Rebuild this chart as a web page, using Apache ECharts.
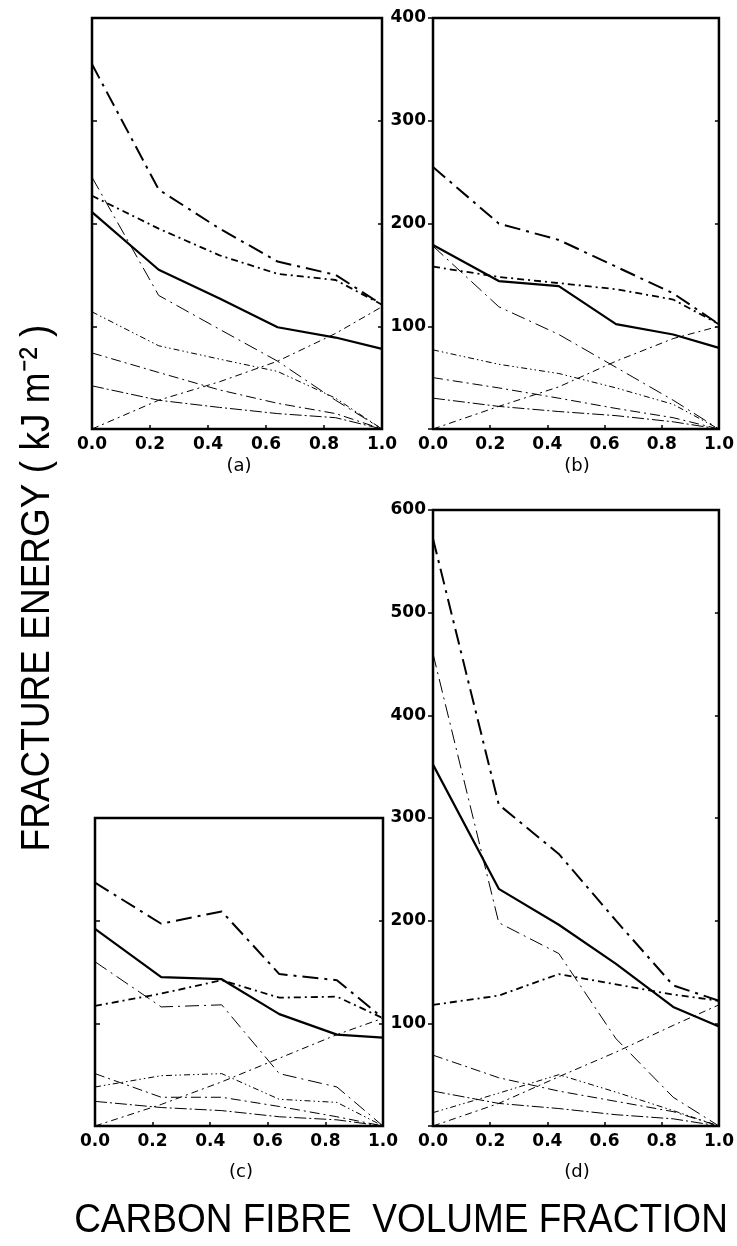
<!DOCTYPE html>
<html>
<head>
<meta charset="utf-8">
<script src="https://cdn.jsdelivr.net/npm/echarts@6/dist/echarts.min.js"></script>
<style>
html,body{margin:0;padding:0;background:#fff;}
#chart{width:737px;height:1246px;}
</style>
</head>
<body>
<div id="chart"></div>
<script>
// ---- data ----
const xVals = [0, 0.23, 0.44, 0.64, 0.84, 1.0];

const a_solid   = [211, 155, 127, 99, 89, 78];
const a_top     = [355, 233, 195, 163, 150, 121];
const a_short   = [227, 195, 169, 151, 145, 121];
const a_steep   = [245, 130, 97, 66, 28, 0];
const a_dd      = [114, 81, 68, 56, 30, 0];
const a_dashdot = [74, 55, 38, 25, 15, 0];
const a_thin    = [42, 28, 21, 15, 11, 0];
const a_rise    = [0, 28, 46, 66, 93, 119];

const b_solid   = [179, 144, 139, 102, 92, 79];
const b_top     = [255, 200, 184, 158, 132, 102];
const b_short   = [158, 148, 142, 136, 126, 102];
const b_steep   = [178, 119, 92, 60, 28, 0];
const b_dd      = [77, 63, 54, 40, 24, 0];
const b_dashdot = [50, 40, 30, 20, 11, 0];
const b_thin    = [30, 22, 17, 13, 7, 0];
const b_rise    = [0, 22, 41, 66, 88, 100];

const c_solid   = [192, 145, 143, 109, 89, 86];
const c_top     = [237, 197, 209, 148, 142, 105];
const c_short   = [117, 129, 142, 125, 126, 105];
const c_steep   = [160, 116, 118, 51, 38, 0];
const c_dd      = [38, 49, 51, 26, 23, 0];
const c_dashdot = [51, 28, 28, 19, 9, 0];
const c_thin    = [24, 18, 15, 9, 6, 0];
const c_rise    = [0, 21, 43, 66, 89, 105];

const d_solid   = [352, 231, 196, 158, 116, 97];
const d_top     = [572, 313, 265, 200, 137, 122];
const d_short   = [118, 127, 148, 138, 128, 122];
const d_steep   = [460, 198, 168, 85, 28, 0];
const d_dd      = [13, 32, 50, 33, 15, 0];
const d_dashdot = [69, 47, 34, 24, 14, 0];
const d_thin    = [34, 22, 17, 11, 7, 0];
const d_rise    = [0, 22, 48, 72, 98, 118];

const panelLabels = ['(a)', '(b)', '(c)', '(d)'];
const yMax = [400, 400, 300, 600];
const yTitle = 'FRACTURE ENERGY ( kJ m\u207B\u00B2 )';
const xTitle = 'CARBON FIBRE  VOLUME FRACTION';

// ---- styles ----
const styles = {
  solid:   {width: 2.2, type: 'solid'},
  top:     {width: 2.0, type: [16, 6, 3, 6]},
  short:   {width: 1.8, type: [7, 4, 2, 4]},
  steep:   {width: 1.0, type: [14, 5, 2, 5]},
  dd:      {width: 1.0, type: [6, 3, 1.5, 3, 1.5, 3]},
  dashdot: {width: 1.0, type: [10, 4, 2, 4]},
  thin:    {width: 1.0, type: [12, 3, 2, 3]},
  rise:    {width: 1.0, type: [7, 4, 2, 4]}
};

const panels = [
  {solid: a_solid, top: a_top, short: a_short, steep: a_steep, dd: a_dd, dashdot: a_dashdot, thin: a_thin, rise: a_rise},
  {solid: b_solid, top: b_top, short: b_short, steep: b_steep, dd: b_dd, dashdot: b_dashdot, thin: b_thin, rise: b_rise},
  {solid: c_solid, top: c_top, short: c_short, steep: c_steep, dd: c_dd, dashdot: c_dashdot, thin: c_thin, rise: c_rise},
  {solid: d_solid, top: d_top, short: d_short, steep: d_steep, dd: d_dd, dashdot: d_dashdot, thin: d_thin, rise: d_rise}
];

// ---- layout ----
const grids = [
  {left: 92,  top: 18,  width: 290, height: 411},
  {left: 433, top: 18,  width: 286, height: 411},
  {left: 95,  top: 818, width: 288, height: 308},
  {left: 433, top: 510, width: 286, height: 616}
];
const showYLabels = [false, true, false, true];
const labelPos = [[239, 466], [577, 466], [241, 1172], [577, 1172]];

const FONT = '"DejaVu Sans", sans-serif';
const TFONT = '"Liberation Sans", Arial, sans-serif';

const tickStyle = {color: '#000', width: 1.5};

const option = {
  animation: false,
  backgroundColor: '#fff',
  grid: grids.map(g => Object.assign({show: true, borderColor: '#000', borderWidth: 2.5, containLabel: false}, g)),
  xAxis: grids.map((g, i) => ({
    type: 'value', gridIndex: i, min: 0, max: 1, interval: 0.2,
    axisLine: {show: false},
    axisTick: {show: true, inside: true, length: 4, lineStyle: tickStyle},
    splitLine: {show: false},
    axisLabel: {color: '#000', fontFamily: FONT, fontSize: 17, fontWeight: 'bold', margin: 7,
      formatter: v => v.toFixed(1)}
  })),
  yAxis: grids.map((g, i) => ({
    type: 'value', gridIndex: i, min: 0, max: yMax[i], interval: 100, position: 'left',
    axisLine: {show: false},
    axisTick: {show: true, inside: !showYLabels[i], length: 5, lineStyle: tickStyle},
    splitLine: {show: false},
    axisLabel: {show: showYLabels[i], color: '#000', fontFamily: FONT, fontSize: 17, fontWeight: 'bold', margin: 7,
      formatter: v => v === 0 ? '' : String(v)}
  })).concat(grids.map((g, i) => ({
    type: 'value', gridIndex: i, min: 0, max: yMax[i], interval: 100, position: 'right',
    axisLine: {show: false},
    axisTick: {show: true, inside: true, length: 4, lineStyle: tickStyle},
    splitLine: {show: false},
    axisLabel: {show: false}
  }))),
  series: [],
  graphic: []
};

panels.forEach((p, i) => {
  Object.keys(styles).forEach(k => {
    option.series.push({
      type: 'line', xAxisIndex: i, yAxisIndex: i, symbol: 'none', silent: true,
      data: xVals.map((x, j) => [x, p[k][j]]),
      lineStyle: {color: '#000', width: styles[k].width, type: styles[k].type},
      z: k === 'solid' ? 3 : 2
    });
  });
  option.graphic.push({
    type: 'text', x: labelPos[i][0], y: labelPos[i][1],
    style: {text: panelLabels[i], font: '18px ' + FONT, fill: '#000', textAlign: 'center', textVerticalAlign: 'middle'}
  });
});

option.graphic.push({
  type: 'text', x: 38, y: 588, rotation: Math.PI / 2, scaleY: 1.12,
  style: {text: yTitle, font: '37px ' + TFONT, fill: '#000', textAlign: 'center', textVerticalAlign: 'middle'}
});
option.graphic.push({
  type: 'text', x: 401, y: 1221, scaleY: 1.12,
  style: {text: xTitle, font: '37px ' + TFONT, fill: '#000', textAlign: 'center', textVerticalAlign: 'middle'}
});

const chart = echarts.init(document.getElementById('chart'), null, {renderer: 'canvas'});
chart.setOption(option);
</script>
</body>
</html>
